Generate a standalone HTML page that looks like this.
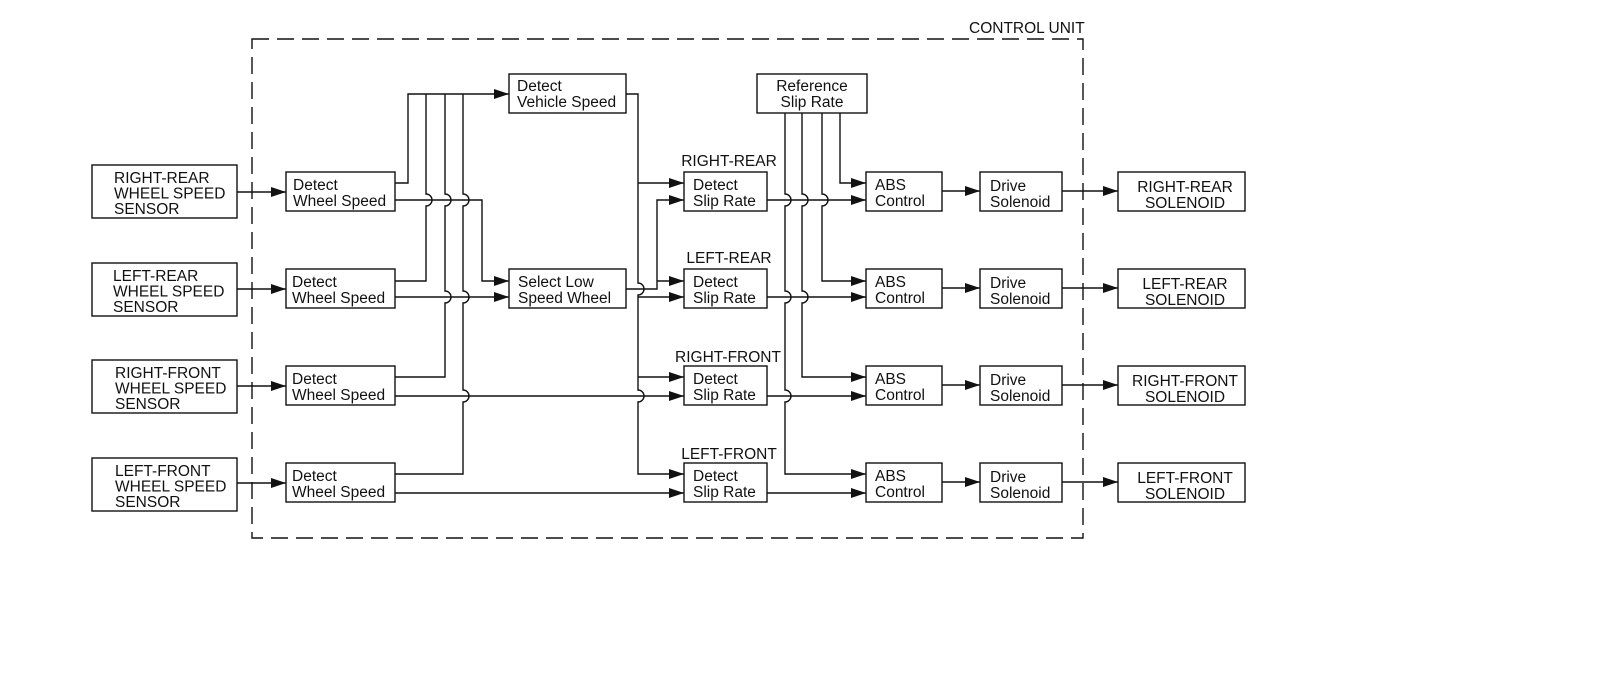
<!DOCTYPE html>
<html><head><meta charset="utf-8"><style>
html,body{margin:0;padding:0;background:#fff;}
svg{display:block;}
text{font-family:"Liberation Sans",Arial,sans-serif;font-size:15.5px;fill:#111;}
</style></head><body>
<svg width="1600" height="689" viewBox="0 0 1600 689" xmlns="http://www.w3.org/2000/svg">
<defs>
<marker id="a" markerWidth="15" markerHeight="10" refX="15" refY="5" orient="auto" markerUnits="userSpaceOnUse">
<path d="M0,0 L15,5 L0,10 Z" fill="#111"/></marker>
</defs>
<g fill="none" stroke="#111" stroke-width="1.4">
<rect x="252" y="39" width="831" height="499" stroke-dasharray="17,8"/>
<rect x="92" y="165" width="145" height="53"/>
<rect x="92" y="263" width="145" height="53"/>
<rect x="92" y="360" width="145" height="53"/>
<rect x="92" y="458" width="145" height="53"/>
<rect x="286" y="172" width="109" height="39"/>
<rect x="286" y="269" width="109" height="39"/>
<rect x="286" y="366" width="109" height="39"/>
<rect x="286" y="463" width="109" height="39"/>
<rect x="509" y="74" width="117" height="39"/>
<rect x="509" y="269" width="117" height="39"/>
<rect x="684" y="172" width="83" height="39"/>
<rect x="684" y="269" width="83" height="39"/>
<rect x="684" y="366" width="83" height="39"/>
<rect x="684" y="463" width="83" height="39"/>
<rect x="757" y="74" width="110" height="39"/>
<rect x="866" y="172" width="76" height="39"/>
<rect x="866" y="269" width="76" height="39"/>
<rect x="866" y="366" width="76" height="39"/>
<rect x="866" y="463" width="76" height="39"/>
<rect x="980" y="172" width="82" height="39"/>
<rect x="980" y="269" width="82" height="39"/>
<rect x="980" y="366" width="82" height="39"/>
<rect x="980" y="463" width="82" height="39"/>
<rect x="1118" y="172" width="127" height="39"/>
<rect x="1118" y="269" width="127" height="39"/>
<rect x="1118" y="366" width="127" height="39"/>
<rect x="1118" y="463" width="127" height="39"/>

<path d="M237,192 H286" marker-end="url(#a)"/>
<path d="M237,289 H286" marker-end="url(#a)"/>
<path d="M237,386 H286" marker-end="url(#a)"/>
<path d="M237,483 H286" marker-end="url(#a)"/>

<path d="M395,183 H408 V94 H509" marker-end="url(#a)"/>
<path d="M426,94 V194 A6,6 0 0 1 426,206 V281 H395"/>
<path d="M445,94 V194 A6,6 0 0 1 445,206 V291 A6,6 0 0 1 445,303 V377 H395"/>
<path d="M463,94 V194 A6,6 0 0 1 463,206 V291 A6,6 0 0 1 463,303 V390 A6,6 0 0 1 463,402 V474 H395"/>
<path d="M395,200 H482 V281 H509" marker-end="url(#a)"/>
<path d="M395,297 H509" marker-end="url(#a)"/>
<path d="M395,396 H684" marker-end="url(#a)"/>
<path d="M395,493 H684" marker-end="url(#a)"/>
<path d="M626,289 H657 V200 H684" marker-end="url(#a)"/>
<path d="M657,281 H684" marker-end="url(#a)"/>
<path d="M626,94 H638 V283 A6,6 0 0 1 638,295 V390 A6,6 0 0 1 638,402 V474 H684" marker-end="url(#a)"/>
<path d="M638,183 H684" marker-end="url(#a)"/>
<path d="M638,297 H684" marker-end="url(#a)"/>
<path d="M638,377 H684" marker-end="url(#a)"/>
<path d="M767,200 H866" marker-end="url(#a)"/>
<path d="M767,297 H866" marker-end="url(#a)"/>
<path d="M767,396 H866" marker-end="url(#a)"/>
<path d="M767,493 H866" marker-end="url(#a)"/>
<path d="M785,113 V194 A6,6 0 0 1 785,206 V291 A6,6 0 0 1 785,303 V390 A6,6 0 0 1 785,402 V474 H866" marker-end="url(#a)"/>
<path d="M802,113 V194 A6,6 0 0 1 802,206 V291 A6,6 0 0 1 802,303 V377 H866" marker-end="url(#a)"/>
<path d="M822,113 V194 A6,6 0 0 1 822,206 V281 H866" marker-end="url(#a)"/>
<path d="M840,113 V183 H866" marker-end="url(#a)"/>
<path d="M942,191 H980" marker-end="url(#a)"/>
<path d="M942,288 H980" marker-end="url(#a)"/>
<path d="M942,385 H980" marker-end="url(#a)"/>
<path d="M942,482 H980" marker-end="url(#a)"/>
<path d="M1062,191 H1118" marker-end="url(#a)"/>
<path d="M1062,288 H1118" marker-end="url(#a)"/>
<path d="M1062,385 H1118" marker-end="url(#a)"/>
<path d="M1062,482 H1118" marker-end="url(#a)"/>
</g>

<text x="969" y="33">CONTROL UNIT</text>

<text x="114" y="183">RIGHT-REAR</text><text x="114" y="198.5">WHEEL SPEED</text><text x="114" y="214">SENSOR</text>
<text x="113" y="281">LEFT-REAR</text><text x="113" y="296.5">WHEEL SPEED</text><text x="113" y="312">SENSOR</text>
<text x="115" y="378">RIGHT-FRONT</text><text x="115" y="393.5">WHEEL SPEED</text><text x="115" y="409">SENSOR</text>
<text x="115" y="476">LEFT-FRONT</text><text x="115" y="491.5">WHEEL SPEED</text><text x="115" y="507">SENSOR</text>

<text x="293" y="190">Detect</text><text x="293" y="206">Wheel Speed</text>
<text x="292" y="287">Detect</text><text x="292" y="303">Wheel Speed</text>
<text x="292" y="384">Detect</text><text x="292" y="400">Wheel Speed</text>
<text x="292" y="481">Detect</text><text x="292" y="497">Wheel Speed</text>

<text x="517" y="91">Detect</text><text x="517" y="107">Vehicle Speed</text>
<text x="518" y="287">Select Low</text><text x="518" y="303">Speed Wheel</text>

<text x="812" y="91" text-anchor="middle">Reference</text><text x="812" y="107" text-anchor="middle">Slip Rate</text>

<text x="729" y="166" text-anchor="middle">RIGHT-REAR</text>
<text x="729" y="263" text-anchor="middle">LEFT-REAR</text>
<text x="728" y="362" text-anchor="middle">RIGHT-FRONT</text>
<text x="729" y="459" text-anchor="middle">LEFT-FRONT</text>

<text x="693" y="190">Detect</text><text x="693" y="206">Slip Rate</text>
<text x="693" y="287">Detect</text><text x="693" y="303">Slip Rate</text>
<text x="693" y="384">Detect</text><text x="693" y="400">Slip Rate</text>
<text x="693" y="481">Detect</text><text x="693" y="497">Slip Rate</text>

<text x="875" y="190">ABS</text><text x="875" y="206">Control</text>
<text x="875" y="287">ABS</text><text x="875" y="303">Control</text>
<text x="875" y="384">ABS</text><text x="875" y="400">Control</text>
<text x="875" y="481">ABS</text><text x="875" y="497">Control</text>

<text x="990" y="191">Drive</text><text x="990" y="207">Solenoid</text>
<text x="990" y="288">Drive</text><text x="990" y="304">Solenoid</text>
<text x="990" y="385">Drive</text><text x="990" y="401">Solenoid</text>
<text x="990" y="482">Drive</text><text x="990" y="498">Solenoid</text>

<text x="1185" y="192" text-anchor="middle">RIGHT-REAR</text><text x="1185" y="208" text-anchor="middle">SOLENOID</text>
<text x="1185" y="289" text-anchor="middle">LEFT-REAR</text><text x="1185" y="305" text-anchor="middle">SOLENOID</text>
<text x="1185" y="386" text-anchor="middle">RIGHT-FRONT</text><text x="1185" y="402" text-anchor="middle">SOLENOID</text>
<text x="1185" y="483" text-anchor="middle">LEFT-FRONT</text><text x="1185" y="499" text-anchor="middle">SOLENOID</text>
</svg>
</body></html>
